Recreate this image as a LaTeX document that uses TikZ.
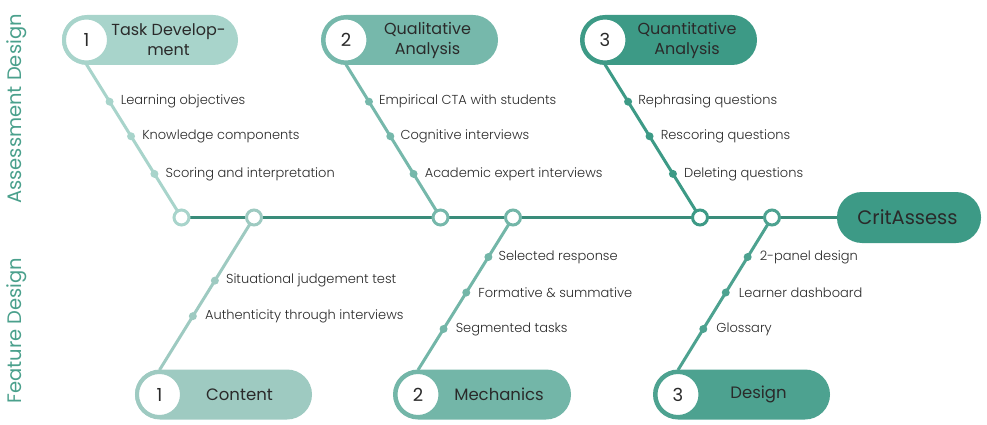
\documentclass[tikz,border=0pt]{standalone}
\usepackage{fontspec}
\setmainfont{Poppins}
\newfontfamily\lightfont{Poppins Light}
\usetikzlibrary{backgrounds}
\definecolor{cA}{HTML}{A8D4CB}
\definecolor{cB}{HTML}{76B8AB}
\definecolor{cC}{HTML}{3D9A86}
\definecolor{cD}{HTML}{9ECAC1}
\definecolor{cE}{HTML}{73B6A8}
\definecolor{cF}{HTML}{4DA290}
\definecolor{spine}{HTML}{3A8C7A}
\definecolor{ink}{HTML}{2A2A2A}
\definecolor{sidec}{HTML}{4AA08C}
\tikzset{
  pill/.style={rectangle, rounded corners=25pt, minimum height=50pt, inner sep=0pt},
  numc/.style={circle, fill=white, line width=4pt, minimum size=45pt, inner sep=0pt, text=ink, font=\fontsize{18}{20}\selectfont},
  ptext/.style={text=ink, align=center, inner sep=0pt, font=\fontsize{16}{20}\selectfont},
  spc/.style={circle, fill=white, line width=3pt, minimum size=15pt, inner sep=0pt},
  dotn/.style={circle, inner sep=0pt, minimum size=8pt},
  item/.style={anchor=west, inner sep=0pt, text=ink, font=\lightfont\fontsize{13}{15}\selectfont},
  branch/.style={line width=3pt},
  side/.style={text=sidec, rotate=90, inner sep=0pt, font=\fontsize{19.5}{22}\selectfont}
}
\begin{document}
\begin{tikzpicture}[x=1pt,y=-1pt]
\useasboundingbox (0,0) rectangle (987,425);
% side labels
\node[side] (sideA) at (16.5,109) {Assessment Design};
\node[side] (sideF) at (16.5,330.5) {Feature Design};
% top pills
\node[pill, fill=cA, minimum width=176pt] (p1) at (150,40) {};
\node[numc, draw=cA] (c1) at (86.5,40) {1};
\node[ptext] (t1) at (168.5,40) {Task Develop-\\ment};
\node[pill, fill=cB, minimum width=177pt] (p2) at (409.5,40) {};
\node[numc, draw=cB] (c2) at (346,40) {2};
\node[ptext] (t2) at (427.5,40) {Qualitative\\Analysis};
\node[pill, fill=cC, minimum width=177pt] (p3) at (668.5,40) {};
\node[numc, draw=cC] (c3) at (605,40) {3};
\node[ptext] (t3) at (687,40) {Quantitative\\Analysis};
% bottom pills
\node[pill, fill=cD, minimum width=177pt] (q1) at (223.5,394.5) {};
\node[numc, draw=cD] (d1) at (159.5,394.5) {1};
\node[ptext, font=\fontsize{16.5}{19}\selectfont] (u1) at (239.5,394.5) {Content};
\node[pill, fill=cE, minimum width=178pt] (q2) at (482,394.5) {};
\node[numc, draw=cE] (d2) at (418,394.5) {2};
\node[ptext, font=\fontsize{16.5}{19}\selectfont] (u2) at (499,394.5) {Mechanics};
\node[pill, fill=cF, minimum width=177pt] (q3) at (741.5,394.5) {};
\node[numc, draw=cF] (d3) at (678,394.5) {3};
\node[ptext, font=\fontsize{16.5}{19}\selectfont] (u3) at (758.5,394.5) {Design};
% target
\node[pill, fill=cC, minimum width=144pt, minimum height=51pt] (crit) at (909,217.5) {};
\node[ptext, font=\fontsize{19.5}{22}\selectfont] (critt) at (907.5,217.5) {CritAssess};
% spine circles
\node[spc, draw=cA] (s1) at (181.5,217.5) {};
\node[spc, draw=cD] (s2) at (254,217.5) {};
\node[spc, draw=cB] (s3) at (440.5,217.5) {};
\node[spc, draw=cE] (s4) at (513,217.5) {};
\node[spc, draw=cC] (s5) at (700,217.5) {};
\node[spc, draw=cF] (s6) at (772,217.5) {};
\begin{scope}[on background layer]
\draw[spine, line width=3pt] (s1.center) -- (crit.west);
\draw[branch, cA] (c1.south) -- (s1.center)
  node[dotn, fill=cA, pos=.243] (a1) {}
  node[dotn, fill=cA, pos=.469] (a2) {}
  node[dotn, fill=cA, pos=.715] (a3) {};
\draw[branch, cB] (c2.south) -- (s3.center)
  node[dotn, fill=cB, pos=.243] (b1) {}
  node[dotn, fill=cB, pos=.469] (b2) {}
  node[dotn, fill=cB, pos=.715] (b3) {};
\draw[branch, cC] (c3.south) -- (s5.center)
  node[dotn, fill=cC, pos=.243] (e1) {}
  node[dotn, fill=cC, pos=.469] (e2) {}
  node[dotn, fill=cC, pos=.715] (e3) {};
\draw[branch, cD] (s2.center) -- (d1.north)
  node[dotn, fill=cD, pos=.414] (f1) {}
  node[dotn, fill=cD, pos=.647] (f2) {};
\draw[branch, cE] (s4.center) -- (d2.north)
  node[dotn, fill=cE, pos=.259] (g1) {}
  node[dotn, fill=cE, pos=.492] (g2) {}
  node[dotn, fill=cE, pos=.731] (g3) {};
\draw[branch, cF] (s6.center) -- (d3.north)
  node[dotn, fill=cF, pos=.259] (h1) {}
  node[dotn, fill=cF, pos=.492] (h2) {}
  node[dotn, fill=cF, pos=.731] (h3) {};
\end{scope}
% item labels
\node[item] (la1) at ([xshift=11pt]a1.center) {Learning objectives};
\node[item] (la2) at ([xshift=11pt]a2.center) {Knowledge components};
\node[item] (la3) at ([xshift=11pt]a3.center) {Scoring and interpretation};
\node[item] (lb1) at ([xshift=10pt]b1.center) {Empirical CTA with students};
\node[item] (lb2) at ([xshift=10pt]b2.center) {Cognitive interviews};
\node[item] (lb3) at ([xshift=11pt]b3.center) {Academic expert interviews};
\node[item] (le1) at ([xshift=10pt]e1.center) {Rephrasing questions};
\node[item] (le2) at ([xshift=11pt]e2.center) {Rescoring questions};
\node[item] (le3) at ([xshift=11pt]e3.center) {Deleting questions};
\node[item] (lf1) at ([xshift=11pt]f1.center) {Situational judgement test};
\node[item] (lf2) at ([xshift=12pt]f2.center) {Authenticity through interviews};
\node[item] (lg1) at ([xshift=10pt]g1.center) {Selected response};
\node[item] (lg2) at ([xshift=12pt]g2.center) {Formative \& summative};
\node[item] (lg3) at ([xshift=12pt]g3.center) {Segmented tasks};
\node[item] (lh1) at ([xshift=12pt]h1.center) {2-panel design};
\node[item] (lh2) at ([xshift=13pt]h2.center) {Learner dashboard};
\node[item] (lh3) at ([xshift=13pt]h3.center) {Glossary};
\end{tikzpicture}
\end{document}
